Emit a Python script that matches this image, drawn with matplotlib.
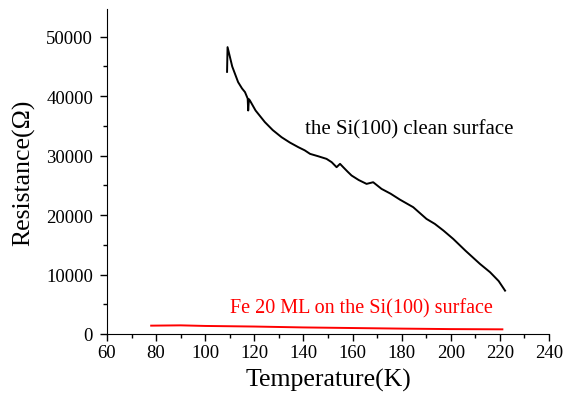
import matplotlib
matplotlib.use("Agg")
import matplotlib.pyplot as plt
from matplotlib.ticker import MultipleLocator

plt.rcParams['font.family'] = ['Liberation Serif', 'DejaVu Serif']

# Si(100) clean surface
si_T = [108.9, 109.1, 111.0, 113.4, 115.0, 116.2, 117.3, 117.5, 117.8, 118.2, 120.5, 124.3,
        127.5, 131.1, 134.5, 137.9, 140.5, 142.7, 146.0, 149.4, 151.5, 153.5, 154.9, 156.2,
        158.0, 159.6, 162.5, 165.7, 168.4, 171.8, 175.5, 179.3, 184.7, 190.1, 193.5, 197.0,
        201.0, 206.0, 211.9, 216.0, 219.5, 222.1]
si_R = [44100, 48260, 45000, 42370, 41300, 40690, 39600, 37600, 39500, 39280, 37600, 35640,
        34300, 33100, 32200, 31430, 30900, 30300, 29900, 29460, 28900, 28060, 28620, 28060,
        27300, 26660, 25900, 25250, 25530, 24410, 23600, 22600, 21330, 19360, 18520, 17400,
        15990, 14000, 11780, 10390, 8900, 7290]

# Fe 20 ML on Si(100)
fe_T = [78, 90, 100, 120, 140, 160, 180, 200, 221]
fe_R = [1400, 1450, 1350, 1250, 1100, 1000, 900, 820, 780]

fig = plt.figure(figsize=(5.66, 4.10), dpi=100)
ax = fig.add_axes([0.189, 0.183, 0.781, 0.793])

ax.plot(si_T, si_R, color='black', lw=1.4)
ax.plot(fe_T, fe_R, color='red', lw=1.4)

ax.set_xlim(60, 240)
ax.set_ylim(0, 54700)
ax.xaxis.set_major_locator(MultipleLocator(20))
ax.xaxis.set_minor_locator(MultipleLocator(10))
ax.yaxis.set_major_locator(MultipleLocator(10000))
ax.yaxis.set_minor_locator(MultipleLocator(5000))

for s in ['top', 'right']:
    ax.spines[s].set_visible(False)
ax.tick_params(axis='both', which='major', direction='out', length=5, width=1,
               labelsize=13.5, pad=2)
ax.tick_params(axis='y', which='major', pad=5)
ax.tick_params(axis='both', which='minor', direction='out', length=3, width=1)

ax.set_xlabel('Temperature(K)', fontsize=18.5, labelpad=5)
ax.set_ylabel('Resistance(\u03a9)', fontsize=18.5, labelpad=8)

ax.text(140.6, 34500, 'the Si(100) clean surface', fontsize=15, color='black',
        ha='left', va='center')
ax.text(110, 4400, 'Fe 20 ML on the Si(100) surface', fontsize=14.5, color='red',
        ha='left', va='center')

fig.savefig('out.png', dpi=100)
